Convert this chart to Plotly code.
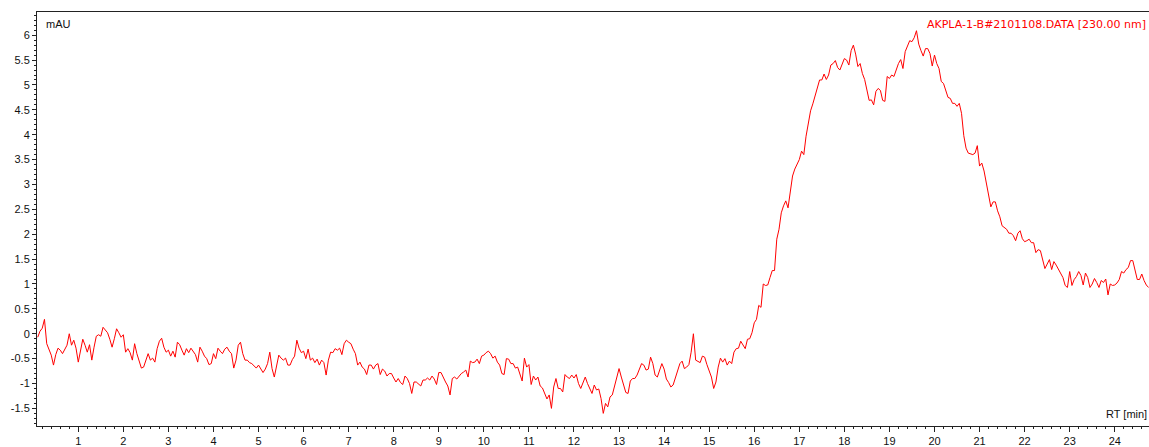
import plotly.graph_objects as go

# Retention time (min), read at 0.05 min steps
rt = [
    0.10, 0.15, 0.20, 0.25, 0.30, 0.35, 0.40, 0.45, 0.50, 0.55, 0.60, 0.65, 0.70, 0.75, 0.80, 0.85, 0.90, 0.95,
    1.00, 1.05, 1.10, 1.15, 1.20, 1.25, 1.30, 1.35, 1.40, 1.45, 1.50, 1.55, 1.60, 1.65, 1.70, 1.75, 1.80, 1.85, 1.90, 1.95,
    2.00, 2.05, 2.10, 2.15, 2.20, 2.25, 2.30, 2.35, 2.40, 2.45, 2.50, 2.55, 2.60, 2.65, 2.70, 2.75, 2.80, 2.85, 2.90, 2.95,
    3.00, 3.05, 3.10, 3.15, 3.20, 3.25, 3.30, 3.35, 3.40, 3.45, 3.50, 3.55, 3.60, 3.65, 3.70, 3.75, 3.80, 3.85, 3.90, 3.95,
    4.00, 4.05, 4.10, 4.15, 4.20, 4.25, 4.30, 4.35, 4.40, 4.45, 4.50, 4.55, 4.60, 4.65, 4.70, 4.75, 4.80, 4.85, 4.90, 4.95,
    5.00, 5.05, 5.10, 5.15, 5.20, 5.25, 5.30, 5.35, 5.40, 5.45, 5.50, 5.55, 5.60, 5.65, 5.70, 5.75, 5.80, 5.85, 5.90, 5.95,
    6.00, 6.05, 6.10, 6.15, 6.20, 6.25, 6.30, 6.35, 6.40, 6.45, 6.50, 6.55, 6.60, 6.65, 6.70, 6.75, 6.80, 6.85, 6.90, 6.95,
    7.00, 7.05, 7.10, 7.15, 7.20, 7.25, 7.30, 7.35, 7.40, 7.45, 7.50, 7.55, 7.60, 7.65, 7.70, 7.75, 7.80, 7.85, 7.90, 7.95,
    8.00, 8.05, 8.10, 8.15, 8.20, 8.25, 8.30, 8.35, 8.40, 8.45, 8.50, 8.55, 8.60, 8.65, 8.70, 8.75, 8.80, 8.85, 8.90, 8.95,
    9.00, 9.05, 9.10, 9.15, 9.20, 9.25, 9.30, 9.35, 9.40, 9.45, 9.50, 9.55, 9.60, 9.65, 9.70, 9.75, 9.80, 9.85, 9.90, 9.95,
    10.00, 10.05, 10.10, 10.15, 10.20, 10.25, 10.30, 10.35, 10.40, 10.45, 10.50, 10.55, 10.60, 10.65, 10.70, 10.75, 10.80, 10.85, 10.90, 10.95,
    11.00, 11.05, 11.10, 11.15, 11.20, 11.25, 11.30, 11.35, 11.40, 11.45, 11.50, 11.55, 11.60, 11.65, 11.70, 11.75, 11.80, 11.85, 11.90, 11.95,
    12.00, 12.05, 12.10, 12.15, 12.20, 12.25, 12.30, 12.35, 12.40, 12.45, 12.50, 12.55, 12.60, 12.65, 12.70, 12.75, 12.80, 12.85, 12.90, 12.95,
    13.00, 13.05, 13.10, 13.15, 13.20, 13.25, 13.30, 13.35, 13.40, 13.45, 13.50, 13.55, 13.60, 13.65, 13.70, 13.75, 13.80, 13.85, 13.90, 13.95,
    14.00, 14.05, 14.10, 14.15, 14.20, 14.25, 14.30, 14.35, 14.40, 14.45, 14.50, 14.55, 14.60, 14.65, 14.70, 14.75, 14.80, 14.85, 14.90, 14.95,
    15.00, 15.05, 15.10, 15.15, 15.20, 15.25, 15.30, 15.35, 15.40, 15.45, 15.50, 15.55, 15.60, 15.65, 15.70, 15.75, 15.80, 15.85, 15.90, 15.95,
    16.00, 16.05, 16.10, 16.15, 16.20, 16.25, 16.30, 16.35, 16.40, 16.45, 16.50, 16.55, 16.60, 16.65, 16.70, 16.75, 16.80, 16.85, 16.90, 16.95,
    17.00, 17.05, 17.10, 17.15, 17.20, 17.25, 17.30, 17.35, 17.40, 17.45, 17.50, 17.55, 17.60, 17.65, 17.70, 17.75, 17.80, 17.85, 17.90, 17.95,
    18.00, 18.05, 18.10, 18.15, 18.20, 18.25, 18.30, 18.35, 18.40, 18.45, 18.50, 18.55, 18.60, 18.65, 18.70, 18.75, 18.80, 18.85, 18.90, 18.95,
    19.00, 19.05, 19.10, 19.15, 19.20, 19.25, 19.30, 19.35, 19.40, 19.45, 19.50, 19.55, 19.60, 19.65, 19.70, 19.75, 19.80, 19.85, 19.90, 19.95,
    20.00, 20.05, 20.10, 20.15, 20.20, 20.25, 20.30, 20.35, 20.40, 20.45, 20.50, 20.55, 20.60, 20.65, 20.70, 20.75, 20.80, 20.85, 20.90, 20.95,
    21.00, 21.05, 21.10, 21.15, 21.20, 21.25, 21.30, 21.35, 21.40, 21.45, 21.50, 21.55, 21.60, 21.65, 21.70, 21.75, 21.80, 21.85, 21.90, 21.95,
    22.00, 22.05, 22.10, 22.15, 22.20, 22.25, 22.30, 22.35, 22.40, 22.45, 22.50, 22.55, 22.60, 22.65, 22.70, 22.75, 22.80, 22.85, 22.90, 22.95,
    23.00, 23.05, 23.10, 23.15, 23.20, 23.25, 23.30, 23.35, 23.40, 23.45, 23.50, 23.55, 23.60, 23.65, 23.70, 23.75, 23.80, 23.85, 23.90, 23.95,
    24.00, 24.05, 24.10, 24.15, 24.20, 24.25, 24.30, 24.35, 24.40, 24.45, 24.50, 24.55, 24.60, 24.65, 24.70, 24.75,
]

# Absorbance (mAU) at 230 nm
mau = [
    # 0.10 - 4.00
    -0.07, 0.05, 0.11, 0.29, -0.2, -0.3, -0.43, -0.63, -0.42, -0.29,
    -0.33, -0.40, -0.31, -0.23, 0.0, -0.23, -0.13, -0.29, -0.57, -0.3,
    -0.11, -0.23, -0.37, -0.22, -0.53, -0.27, -0.05, -0.02, -0.05, 0.13,
    0.07, 0.02, -0.11, -0.27, -0.1, 0.1, 0.02, -0.07, -0.02, -0.37,
    -0.3, -0.38, -0.53, -0.2, -0.4, -0.57, -0.69, -0.67, -0.55, -0.4,
    -0.53, -0.49, -0.57, -0.3, -0.15, -0.09, -0.27, -0.37, -0.33, -0.45,
    -0.35, -0.47, -0.17, -0.22, -0.33, -0.43, -0.3, -0.38, -0.29, -0.37,
    -0.42, -0.57, -0.27, -0.35, -0.45, -0.5, -0.62, -0.6, -0.4,
    # 4.05 - 8.00
    -0.5, -0.29, -0.35, -0.4, -0.31, -0.27, -0.35, -0.4, -0.69, -0.53,
    -0.23, -0.17, -0.4, -0.53, -0.53, -0.58, -0.6, -0.65, -0.69, -0.63,
    -0.72, -0.78, -0.71, -0.6, -0.37, -0.7, -0.87, -0.63, -0.43, -0.49,
    -0.53, -0.49, -0.63, -0.63, -0.52, -0.45, -0.13, -0.29, -0.38, -0.35,
    -0.5, -0.31, -0.53, -0.49, -0.58, -0.51, -0.63, -0.53, -0.58, -0.83,
    -0.53, -0.37, -0.38, -0.3, -0.33, -0.29, -0.42, -0.2, -0.13, -0.17,
    -0.2, -0.31, -0.4, -0.63, -0.57, -0.67, -0.71, -0.82, -0.63, -0.63,
    -0.71, -0.63, -0.6, -0.82, -0.71, -0.75, -0.85, -0.8, -0.8, -0.89,
    # 8.05 - 11.95
    -0.97, -0.9, -0.98, -1.02, -0.85, -0.9, -1.0, -1.2, -0.97, -0.97,
    -1.02, -1.05, -0.93, -0.93, -0.89, -0.93, -0.85, -0.91, -1.02, -0.78,
    -0.78, -0.89, -0.97, -1.05, -1.23, -0.9, -0.87, -0.91, -0.85, -0.8,
    -0.77, -0.73, -0.87, -0.55, -0.58, -0.57, -0.51, -0.6, -0.45, -0.43,
    -0.38, -0.35, -0.4, -0.49, -0.45, -0.57, -0.63, -0.8, -0.82, -0.5,
    -0.51, -0.6, -0.6, -0.69, -0.67, -0.82, -0.95, -0.49, -0.67, -0.62,
    -1.02, -0.85, -0.93, -0.87, -1.05, -1.09, -1.2, -1.31, -1.23, -1.5,
    -1.07, -0.9, -1.1, -1.1, -1.17, -0.82, -0.87, -0.9, -0.83,
    # 12.00 - 15.90
    -0.89, -0.82, -1.0, -1.1, -1.0, -0.87, -1.0, -1.09, -1.2, -1.03,
    -1.13, -1.11, -1.3, -1.6, -1.4, -1.47, -1.27, -1.23, -1.05, -0.9,
    -0.7, -0.87, -1.02, -1.18, -1.2, -0.95, -0.9, -0.9, -0.83, -0.73,
    -0.6, -0.63, -0.73, -0.71, -0.47, -0.6, -0.83, -0.87, -0.73, -0.6,
    -0.71, -0.91, -0.98, -1.07, -1.03, -0.89, -0.77, -0.6, -0.55, -0.7,
    -0.67, -0.62, -0.37, 0.0, -0.53, -0.55, -0.58, -0.45, -0.47, -0.62,
    -0.75, -0.87, -1.1, -0.97, -0.67, -0.49, -0.57, -0.5, -0.63, -0.55,
    -0.6, -0.37, -0.3, -0.29, -0.15, -0.23, -0.3, -0.11, -0.1,
    # 15.95 - 18.75
    0.02, 0.22, 0.29, 0.57, 0.53, 1.0, 0.97, 0.98, 1.13, 1.27,
    1.27, 1.9, 2.1, 2.43, 2.57, 2.67, 2.53, 2.87, 3.17, 3.31,
    3.4, 3.5, 3.67, 3.6, 3.97, 4.23, 4.48, 4.62, 4.77, 4.9,
    5.1, 5.1, 5.22, 5.11, 5.2, 5.4, 5.43, 5.49, 5.35, 5.3,
    5.4, 5.53, 5.5, 5.4, 5.69, 5.8, 5.62, 5.37, 5.43, 5.23,
    5.11, 4.9, 4.69, 4.7, 4.6, 4.87, 4.93,
    # 18.80 - 21.65
    4.89, 4.69, 4.67, 5.17, 5.13, 5.2, 5.17, 5.3, 5.43, 5.51,
    5.33, 5.67, 5.78, 5.89, 5.87, 5.95, 6.09, 5.82, 5.69, 5.58,
    5.73, 5.73, 5.63, 5.38, 5.6, 5.43, 5.33, 5.07, 5.03, 4.9,
    4.75, 4.73, 4.63, 4.63, 4.57, 4.63, 4.43, 3.98, 3.73, 3.63,
    3.62, 3.6, 3.63, 3.78, 3.37, 3.43, 3.27, 3.02, 2.8, 2.55,
    2.65, 2.65, 2.47, 2.35, 2.17, 2.13, 2.1, 2.02,
    # 21.70 - 24.75
    2.02, 1.97, 1.87, 2.02, 2.07, 1.91, 1.85, 1.87, 1.9, 1.83,
    1.83, 1.63, 1.69, 1.67, 1.5, 1.31, 1.4, 1.49, 1.29, 1.45,
    1.38, 1.3, 1.22, 1.13, 0.97, 0.93, 1.25, 0.97, 1.09, 1.15,
    1.25, 1.17, 0.98, 1.22, 1.13, 0.93, 1.0, 1.11, 1.03, 0.93,
    1.07, 1.03, 1.1, 0.78, 1.0, 0.97, 0.98, 1.02, 1.09, 1.25,
    1.22, 1.29, 1.33, 1.47, 1.47, 1.27, 1.09, 1.09, 1.2, 1.07,
    0.98, 0.93,
]

x_tick_vals = [1, 2, 3, 4, 5, 6, 7, 8, 9, 10, 11, 12, 13, 14, 15, 16, 17, 18, 19, 20, 21, 22, 23, 24]
x_tick_text = ["1", "2", "3", "4", "5", "6", "7", "8", "9", "10", "11", "12", "13", "14", "15", "16",
               "17", "18", "19", "20", "21", "22", "23", "24"]
y_tick_vals = [-1.5, -1, -0.5, 0, 0.5, 1, 1.5, 2, 2.5, 3, 3.5, 4, 4.5, 5, 5.5, 6]
y_tick_text = ["-1.5", "-1", "-0.5", "0", "0.5", "1", "1.5", "2", "2.5", "3", "3.5", "4", "4.5", "5", "5.5", "6"]

series_name = "AKPLA-1-B#2101108.DATA [230.00 nm]"
y_unit = "mAU"
x_title = "RT [min]"

FONT = "Liberation Sans, Arial, sans-serif"
WIDE_FONT = "DejaVu Sans, Liberation Sans, sans-serif"
RED = "#FF0000"

fig = go.Figure()
fig.add_trace(go.Scatter(
    x=rt, y=mau, mode="lines",
    line=dict(color=RED, width=1),
    name=series_name, showlegend=False, hoverinfo="skip",
))

fig.update_layout(
    width=1149, height=447,
    margin=dict(l=37, r=0, t=12, b=19),
    paper_bgcolor="white", plot_bgcolor="white",
    font=dict(family=FONT, size=11, color="#111"),
    xaxis=dict(
        range=[0.084, 24.76],
        showgrid=False, zeroline=False,
        showline=True, linecolor="#222", linewidth=1, mirror=True,
        tickmode="array", tickvals=x_tick_vals, ticktext=x_tick_text,
        ticks="outside", ticklen=5, tickcolor="#222", tickwidth=1,
        minor=dict(ticks="outside", ticklen=2, dtick=0.2, tick0=0, tickcolor="#222", showgrid=False),
        tickfont=dict(family=FONT, size=11, color="#111"),
    ),
    yaxis=dict(
        range=[-1.854, 6.466],
        showgrid=False, zeroline=False,
        showline=True, linecolor="#222", linewidth=1,
        tickmode="array", tickvals=y_tick_vals, ticktext=y_tick_text,
        ticks="outside", ticklen=4, tickcolor="#222", tickwidth=1,
        minor=dict(ticks="outside", ticklen=2, dtick=0.1, tick0=0, tickcolor="#222", showgrid=False),
        tickfont=dict(family=FONT, size=11, color="#111"),
    ),
    annotations=[
        dict(text=y_unit, xref="paper", yref="paper", x=0.006, y=0.971,
             xanchor="left", yanchor="middle", showarrow=False,
             font=dict(family=FONT, size=11, color="#111")),
        dict(text=series_name, xref="paper", yref="paper", x=0.999, y=0.971,
             xanchor="right", yanchor="middle", showarrow=False,
             font=dict(family=WIDE_FONT, size=11, color=RED)),
        dict(text=x_title, xref="paper", yref="paper", x=1.0, y=0.029,
             xanchor="right", yanchor="middle", showarrow=False,
             font=dict(family=FONT, size=11, color="#111")),
    ],
)

fig.write_html(
    "out.html",
    config={"displayModeBar": False, "staticPlot": True},
    post_script="document.body.style.margin='0';document.body.style.overflow='hidden';",
)
